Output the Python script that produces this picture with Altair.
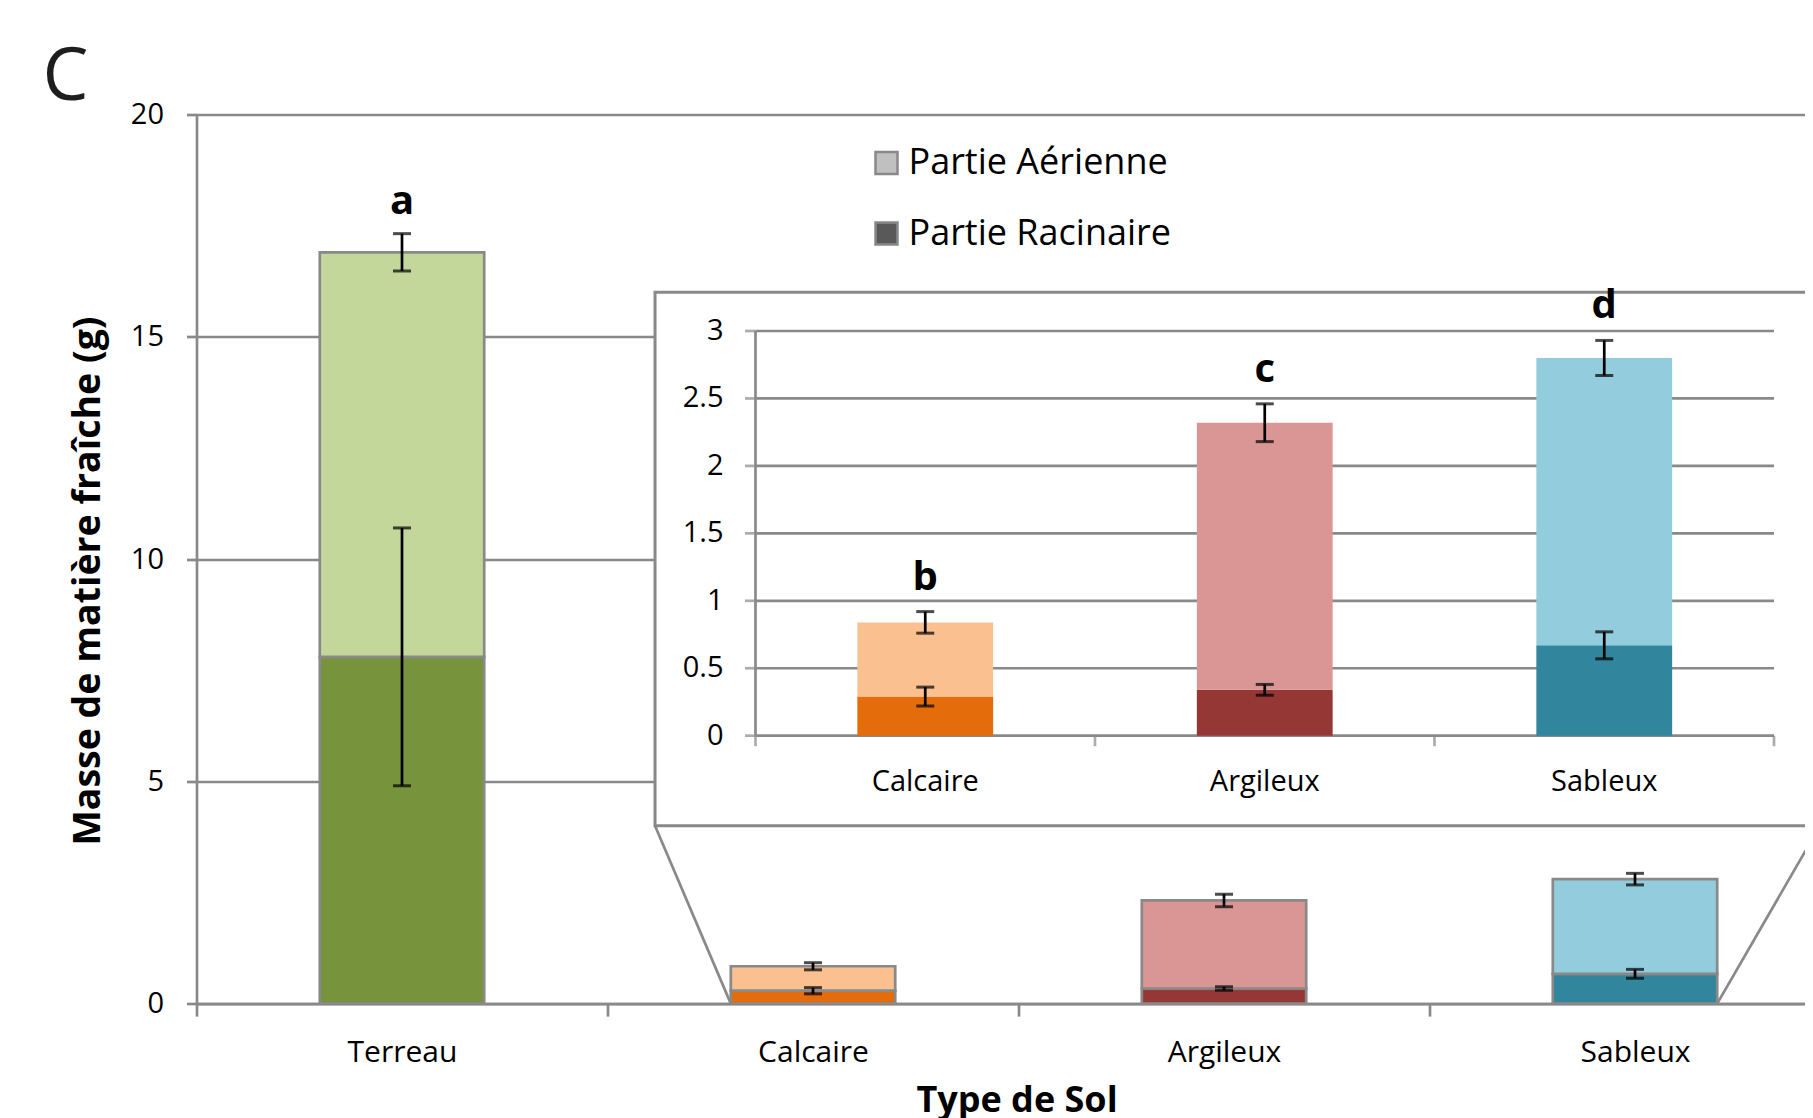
import math
import altair as alt
import pandas as pd

# ---------------- data ----------------
soils = ["Terreau", "Calcaire", "Argileux", "Sableux"]
racinaire = [7.8, 0.29, 0.34, 0.67]          # root part (bottom segment)
racinaire_err = [2.9, 0.07, 0.04, 0.10]
totale = [16.9, 0.84, 2.32, 2.80]            # root + aerial (top of stack)
totale_err = [0.42, 0.08, 0.14, 0.13]
lettres = ["a", "b", "c", "d"]
main_ticks = [0, 5, 10, 15, 20]
inset_ticks = [0, 0.5, 1, 1.5, 2, 2.5, 3]
legend_labels = ["Partie Aérienne", "Partie Racinaire"]
inset_idx = [1, 2, 3]

# ---------------- styles ----------------
col_aer = ["#C4D79B", "#FAC090", "#D99694", "#93CDDD"]
col_rac = ["#77933C", "#E46C0A", "#953735", "#31859C"]
legend_colors = ["#C0C0C0", "#595959"]
FONT = "Open Sans"
GRAY = "#898989"
LW = 2.7

# ---------------- layout ----------------
PLOT_W = 1608.5
PLOT_H = 889.1
MAIN_X = [0, 3.9136]
MAIN_Y = [0, 20]
INSET_X = [-1.6465, 3.0913]
INSET_Y = [-1.9859, 4.6049]
BOX = dict(x0=1.1156, x1=3.95, y0=4.0, y1=16.0)
HALF = 0.2

xs_m = alt.Scale(domain=MAIN_X, nice=False, zero=False)
ys_m = alt.Scale(domain=MAIN_Y, nice=False, zero=False)
xs_i = alt.Scale(domain=INSET_X, nice=False, zero=False)
ys_i = alt.Scale(domain=INSET_Y, nice=False, zero=False)


def bar_table(idx):
    rows = []
    for k, i in enumerate(idx):
        c = k + 0.5
        rows.append(dict(soil=soils[i], x0=c - HALF, x1=c + HALF, y0=0.0, y1=racinaire[i], fill=col_rac[i]))
        rows.append(dict(soil=soils[i], x0=c - HALF, x1=c + HALF, y0=racinaire[i], y1=totale[i], fill=col_aer[i]))
    return pd.DataFrame(rows)


def err_table(idx):
    rows = []
    for k, i in enumerate(idx):
        c = k + 0.5
        rows.append(dict(xc=c, lo=racinaire[i] - racinaire_err[i], hi=racinaire[i] + racinaire_err[i]))
        rows.append(dict(xc=c, lo=totale[i] - totale_err[i], hi=totale[i] + totale_err[i]))
    return pd.DataFrame(rows)


def letter_table(idx):
    return pd.DataFrame([dict(xc=k + 0.5, top=totale[i] + totale_err[i], letter=lettres[i])
                         for k, i in enumerate(idx)])


all_idx = list(range(len(soils)))
bars_main = bar_table(all_idx)
err_main = err_table(all_idx)
let_main = letter_table([0])

label_expr = "[" + ",".join("'%s'" % s for s in soils) + "][datum.value]"

x_axis_main = alt.Axis(
    values=list(range(len(soils))), grid=False, labelExpr=label_expr,
    labelOffset=411 / 2, labelFlush=False, labelOverlap=False, labelBound=False,
    labelFont=FONT, labelFontSize=30, labelColor="black", labelBaseline="alphabetic",
    labelPadding=45.5, labelAlign="center",
    domainColor=GRAY, domainWidth=LW, tickColor=GRAY, tickWidth=LW, tickSize=12.5,
    title="Type de Sol", titleFont=FONT, titleFontSize=36, titleFontWeight="bold",
    titleColor="black", titleX=820, titleY=107.5, titleBaseline="alphabetic", titleAlign="center",
    orient="bottom",
)
y_axis_main = alt.Axis(
    values=main_ticks, grid=True, gridColor=GRAY, gridWidth=LW,
    domainColor=GRAY, domainWidth=LW, tickColor=GRAY, tickWidth=LW, tickSize=10,
    labelFont=FONT, labelFontSize=29, labelColor="black", labelPadding=23,
    title="Masse de matière fraîche (g)", titleFont=FONT, titleFontSize=37.5,
    titleFontWeight="bold", titleColor="black", titleAngle=-90, titleX=-108, titleY=466,
    titleAlign="center", titleBaseline="middle", orient="left",
)


def mx(f, axis=None):
    return alt.X(f, scale=xs_m, axis=axis)


def my(f, axis=None):
    return alt.Y(f, scale=ys_m, axis=axis)


def ix(f):
    return alt.X(f, scale=xs_i, axis=None)


def iy(f):
    return alt.Y(f, scale=ys_i, axis=None)


bars_m = alt.Chart(bars_main).mark_bar(stroke=GRAY, strokeWidth=LW).encode(
    x=mx("x0:Q", x_axis_main), x2="x1:Q",
    y=my("y0:Q", y_axis_main), y2="y1:Q",
    fill=alt.Fill("fill:N", scale=None),
)
err_m = alt.Chart(err_main).mark_rule(color="black", strokeWidth=LW).encode(
    x=mx("xc:Q"), y=my("lo:Q"), y2="hi:Q",
)
caps_m = alt.Chart(err_main).transform_fold(["lo", "hi"], as_=["k", "v"]).mark_tick(
    orient="horizontal", size=18, thickness=3, color="black"
).encode(x=mx("xc:Q"), y=my("v:Q"))
letter_m = alt.Chart(let_main).mark_text(
    dy=-20, baseline="alphabetic", font=FONT, fontSize=40, fontWeight="bold", color="black"
).encode(x=mx("xc:Q"), y=my("top:Q"), text="letter:N")
box = alt.Chart(pd.DataFrame([BOX])).mark_rect(fill="white", stroke=GRAY, strokeWidth=3).encode(
    x=mx("x0:Q"), x2="x1:Q", y=my("y0:Q"), y2="y1:Q",
)
conn_df = pd.DataFrame([
    dict(xa=BOX["x0"], ya=BOX["y0"], xb=inset_idx[0] + 0.5 - HALF, yb=0.0),
    dict(xa=BOX["x1"], ya=BOX["y0"], xb=inset_idx[-1] + 0.5 + HALF, yb=0.0),
])
conn = alt.Chart(conn_df).mark_rule(color=GRAY, strokeWidth=LW).encode(
    x=mx("xa:Q"), x2="xb:Q", y=my("ya:Q"), y2="yb:Q",
)
leg_df = pd.DataFrame({"part": legend_labels, "x": [math.nan] * 2, "y": [math.nan] * 2})
leg = alt.Chart(leg_df).mark_point(shape="square", filled=True, stroke=GRAY, strokeWidth=2.5).encode(
    x=mx("x:Q"), y=my("y:Q"),
    color=alt.Color(
        "part:N",
        scale=alt.Scale(domain=legend_labels, range=legend_colors),
        legend=alt.Legend(
            orient="none", legendX=672, legendY=30.5, title=None,
            symbolType="square", symbolSize=484, symbolStrokeColor=GRAY,
            symbolStrokeWidth=2.5, symbolOpacity=1,
            labelFont=FONT, labelFontSize=36, labelColor="black", labelOffset=4,
            labelLimit=0, rowPadding=34.5, padding=0,
        ),
    ),
)
panel = alt.Chart(pd.DataFrame({"t": ["C"]})).mark_text(
    align="left", baseline="alphabetic", font=FONT, fontSize=73, color="#1e1e1e"
).encode(x=alt.value(-154), y=alt.value(-15), text="t:N")

# ---------------- inset ----------------
n_in = len(inset_idx)
bars_in = bar_table(inset_idx)
err_in = err_table(inset_idx)
let_in = letter_table(inset_idx)
grid_df = pd.DataFrame({"v": inset_ticks, "xa": 0.0, "xb": float(n_in)})
xt_df = pd.DataFrame({"x": [float(k) for k in range(n_in + 1)], "y": 0.0})
xl_df = pd.DataFrame({"x": [k + 0.5 for k in range(n_in)], "y": 0.0, "label": [soils[i] for i in inset_idx]})
yax_df = pd.DataFrame([dict(x=0.0, lo=min(inset_ticks), hi=max(inset_ticks))])

grid_i = alt.Chart(grid_df).mark_rule(color=GRAY, strokeWidth=LW).encode(
    x=ix("xa:Q"), x2="xb:Q", y=iy("v:Q"))
ytick_i = alt.Chart(grid_df).mark_tick(orient="horizontal", size=10.5, thickness=LW, color=GRAY, xOffset=-5.25).encode(
    x=ix("xa:Q"), y=iy("v:Q"))
yaxis_i = alt.Chart(yax_df).mark_rule(color=GRAY, strokeWidth=LW).encode(
    x=ix("x:Q"), y=iy("lo:Q"), y2="hi:Q")
xtick_i = alt.Chart(xt_df).mark_tick(orient="vertical", size=10.5, thickness=LW, color=GRAY, yOffset=5.25).encode(
    x=ix("x:Q"), y=iy("y:Q"))
ylab_i = alt.Chart(grid_df).mark_text(
    align="right", baseline="middle", dx=-32, font=FONT, fontSize=29, color="black"
).encode(x=ix("xa:Q"), y=iy("v:Q"), text=alt.Text("v:Q", format="~g"))
xlab_i = alt.Chart(xl_df).mark_text(
    align="center", baseline="alphabetic", dy=55, font=FONT, fontSize=29, color="black"
).encode(x=ix("x:Q"), y=iy("y:Q"), text="label:N")
bars_i = alt.Chart(bars_in).mark_bar().encode(
    x=ix("x0:Q"), x2="x1:Q", y=iy("y0:Q"), y2="y1:Q", fill=alt.Fill("fill:N", scale=None))
err_i = alt.Chart(err_in).mark_rule(color="black", strokeWidth=LW).encode(
    x=ix("xc:Q"), y=iy("lo:Q"), y2="hi:Q")
caps_i = alt.Chart(err_in).transform_fold(["lo", "hi"], as_=["k", "v"]).mark_tick(
    orient="horizontal", size=18, thickness=3, color="black"
).encode(x=ix("xc:Q"), y=iy("v:Q"))
letter_i = alt.Chart(let_in).mark_text(
    dy=-22, baseline="alphabetic", font=FONT, fontSize=40, fontWeight="bold", color="black"
).encode(x=ix("xc:Q"), y=iy("top:Q"), text="letter:N")

chart = alt.layer(
    bars_m, err_m, caps_m, letter_m, box, conn, leg, panel,
    grid_i, ytick_i, yaxis_i, xtick_i, ylab_i, xlab_i, bars_i, err_i, caps_i, letter_i,
).resolve_scale(
    x="independent", y="independent"
).properties(
    width=PLOT_W, height=PLOT_H,
    padding={"left": 188.5, "top": 106.5, "right": 0, "bottom": 114.4},
    autosize=alt.AutoSizeParams(type="none"),
    background="white",
).configure_view(stroke=None)

chart.save("out.html", embed_options={"renderer": "svg", "actions": False})
